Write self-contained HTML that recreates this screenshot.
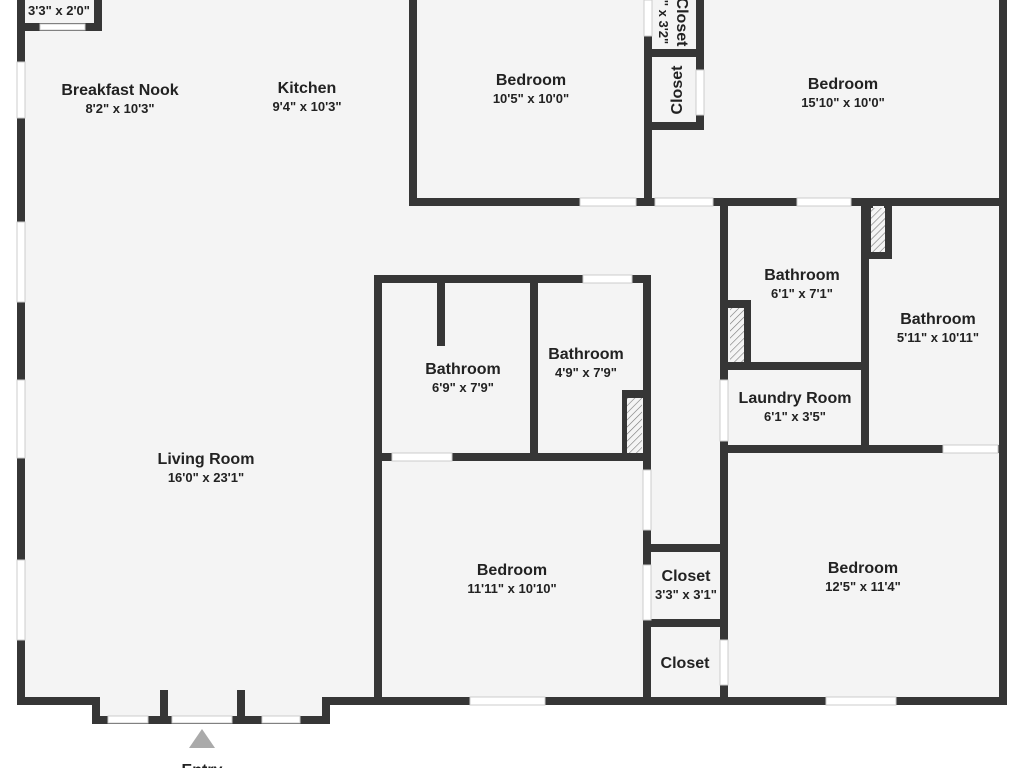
<!DOCTYPE html>
<html><head><meta charset="utf-8"><style>
html,body{margin:0;padding:0;background:#fff;}
svg{display:block;}
text{font-family:"Liberation Sans",sans-serif;fill:#222;text-anchor:middle;}
.n{font-size:16px;font-weight:bold;}
.d{font-size:13px;font-weight:bold;}
</style></head><body>
<svg width="1024" height="768" viewBox="0 0 1024 768" xmlns="http://www.w3.org/2000/svg">
<defs><pattern id="h" width="5" height="5" patternUnits="userSpaceOnUse" patternTransform="rotate(45)"><rect width="5" height="5" fill="#f4f4f4"/><line x1="0" y1="0" x2="0" y2="5" stroke="#777" stroke-width="1.2"/></pattern></defs>
<rect x="21" y="0" width="982" height="702" fill="#f4f4f4"/>
<rect x="96" y="700" width="230" height="20" fill="#f4f4f4"/>
<g stroke="#363636" stroke-width="8" fill="none" stroke-linecap="square">
<path d="M21 0 V701 H96 V720 H326 V701 H1003 V0"/>
<line x1="164" y1="694" x2="164" y2="720"/><line x1="241" y1="694" x2="241" y2="720"/>
<path d="M21 27 H98 V0"/>
<path d="M413 0 V202 H1003"/>
<line x1="648" y1="36" x2="648" y2="202"/>
<path d="M652 53 H700 V126 H652"/>
<line x1="700" y1="0" x2="700" y2="53"/>
<line x1="724" y1="202" x2="724" y2="701"/>
<line x1="865" y1="202" x2="865" y2="449"/>
<path d="M869 206 V255 H888 V206"/>
<line x1="728" y1="366" x2="865" y2="366"/>
<path d="M728 304 H747 V362"/>
<line x1="724" y1="449" x2="1003" y2="449"/>
<path d="M378 701 V279 H647 V701"/>
<line x1="534" y1="279" x2="534" y2="457"/>
<line x1="441" y1="283" x2="441" y2="342"/>
<line x1="378" y1="457" x2="647" y2="457"/>
<path d="M643 394 H626 V453"/>
<line x1="647" y1="548" x2="724" y2="548"/>
<line x1="647" y1="623" x2="724" y2="623"/>
</g>
<rect x="627" y="398" width="15" height="55" fill="url(#h)"/>
<rect x="730" y="308" width="14" height="54" fill="url(#h)"/>
<rect x="871" y="208" width="14" height="44" fill="url(#h)"/>
<g fill="#fff" stroke="#ccc" stroke-width="1">
<rect x="40" y="24" width="45" height="6"/>
<rect x="17" y="62" width="8" height="56"/><rect x="17" y="222" width="8" height="80"/>
<rect x="17" y="380" width="8" height="78"/><rect x="17" y="560" width="8" height="80"/>
<rect x="172" y="716" width="60" height="7"/>
<rect x="108" y="716" width="40" height="7"/><rect x="262" y="716" width="38" height="7"/>
<rect x="580" y="198" width="56" height="8"/><rect x="655" y="198" width="58" height="8"/><rect x="797" y="198" width="54" height="8"/>
<rect x="644" y="0" width="8" height="36"/>
<rect x="696" y="70" width="8" height="45"/>
<rect x="720" y="380" width="8" height="61"/>
<rect x="943" y="445" width="55" height="8"/>
<rect x="583" y="275" width="49" height="8"/>
<rect x="392" y="453" width="60" height="8"/>
<rect x="643" y="470" width="8" height="60"/><rect x="643" y="565" width="8" height="55"/>
<rect x="720" y="640" width="8" height="45"/>
<rect x="470" y="697" width="75" height="8"/><rect x="826" y="697" width="70" height="8"/>
</g>
<polygon points="202,729 189,748 215,748" fill="#aaa"/>
<text class="n" x="202" y="775">Entry</text>
<text class="d" x="59" y="15">3'3" x 2'0"</text>
<text class="n" x="120" y="95">Breakfast Nook</text><text class="d" x="120" y="113">8'2" x 10'3"</text>
<text class="n" x="307" y="93">Kitchen</text><text class="d" x="307" y="111">9'4" x 10'3"</text>
<text class="n" x="531" y="85">Bedroom</text><text class="d" x="531" y="103">10'5" x 10'0"</text>
<text class="n" x="843" y="89">Bedroom</text><text class="d" x="843" y="107">15'10" x 10'0"</text>
<text class="n" transform="translate(677,22) rotate(90)">Closet</text>
<text class="d" transform="translate(659,22) rotate(90)">'' x 3'2"</text>
<text class="n" transform="translate(682,90) rotate(-90)">Closet</text>
<text class="n" x="802" y="280">Bathroom</text><text class="d" x="802" y="298">6'1" x 7'1"</text>
<text class="n" x="938" y="324">Bathroom</text><text class="d" x="938" y="342">5'11" x 10'11"</text>
<text class="n" x="795" y="403">Laundry Room</text><text class="d" x="795" y="421">6'1" x 3'5"</text>
<text class="n" x="463" y="374">Bathroom</text><text class="d" x="463" y="392">6'9" x 7'9"</text>
<text class="n" x="586" y="359">Bathroom</text><text class="d" x="586" y="377">4'9" x 7'9"</text>
<text class="n" x="206" y="464">Living Room</text><text class="d" x="206" y="482">16'0" x 23'1"</text>
<text class="n" x="512" y="575">Bedroom</text><text class="d" x="512" y="593">11'11" x 10'10"</text>
<text class="n" x="686" y="581">Closet</text><text class="d" x="686" y="599">3'3" x 3'1"</text>
<text class="n" x="685" y="668">Closet</text>
<text class="n" x="863" y="573">Bedroom</text><text class="d" x="863" y="591">12'5" x 11'4"</text>
</svg>
</body></html>
